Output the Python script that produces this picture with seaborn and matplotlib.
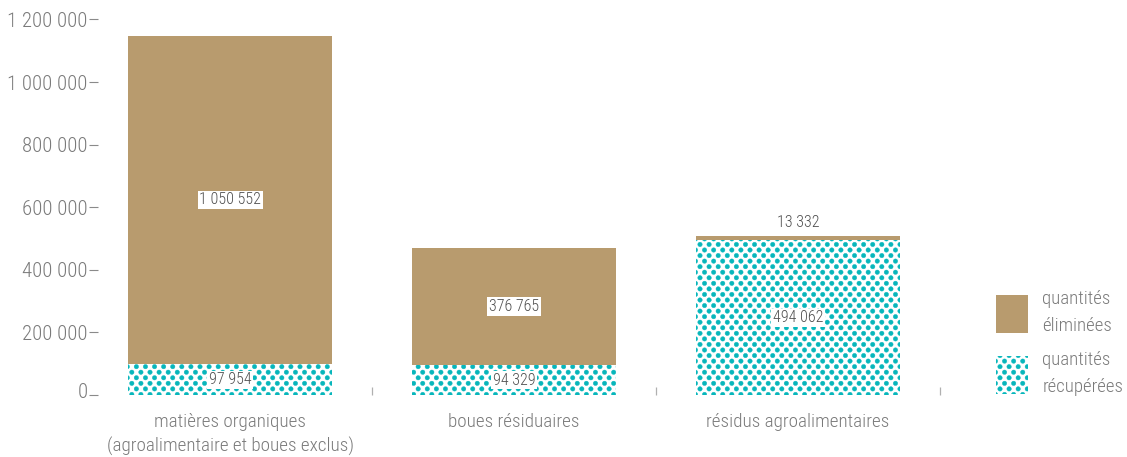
import numpy as np
import pandas as pd
import matplotlib
matplotlib.use("Agg")
import matplotlib.pyplot as plt
import matplotlib.hatch as mhatch
from matplotlib.path import Path
from matplotlib.patches import Patch
from matplotlib.transforms import ScaledTranslation
import seaborn as sns

# ---- data -------------------------------------------------------------
categories = [
    "matières organiques\n(agroalimentaire et boues exclus)",
    "boues résiduaires",
    "résidus agroalimentaires",
]
recuperees = [97954, 94329, 494062]      # quantités récupérées (t)
eliminees = [1050552, 376765, 13332]     # quantités éliminées (t)
y_ticks = [0, 200000, 400000, 600000, 800000, 1000000, 1200000]
y_tick_labels = ["0", "200 000", "400 000", "600 000", "800 000", "1 000 000", "1 200 000"]
legend_labels = ["quantités\néliminées", "quantités\nrécupérées"]

TAN = "#B89B6E"
TEAL = "#07B6BB"
GREY = "#7a7a7a"
DARK = "#4f4f4f"


# ---- dotted fill: filled dots on a staggered lattice --------------------
class StaggeredDots(mhatch.HatchPatternBase):
    cols, rows, radius = 11, 18, 0.022

    def __init__(self, hatch, density):
        circle = Path.unit_circle()
        self.shape_vertices = circle.vertices * self.radius
        self.shape_codes = circle.codes
        self.centres = []
        if "." in hatch:
            for r in range(self.rows + 1):
                y = r / self.rows
                if r % 2 == 0:
                    xs = np.linspace(0, 1, self.cols + 1)
                else:
                    xs = (np.arange(self.cols) + 0.5) / self.cols
                self.centres += [(x, y) for x in xs]
        self.num_vertices = len(self.centres) * len(self.shape_vertices)

    def set_vertices_and_codes(self, vertices, codes):
        k = len(self.shape_vertices)
        for i, (x, y) in enumerate(self.centres):
            vertices[i * k:(i + 1) * k] = self.shape_vertices + (x, y)
            codes[i * k:(i + 1) * k] = self.shape_codes


mhatch._hatch_types[mhatch._hatch_types.index(mhatch.SmallFilledCircles)] = StaggeredDots

# ---- style ------------------------------------------------------------
sns.set_theme(style="white")
plt.rcParams["font.family"] = ["Roboto Condensed", "DejaVu Sans"]
plt.rcParams["font.weight"] = "light"
plt.rcParams["hatch.linewidth"] = 0.3

df = pd.DataFrame({"cat": categories, "rec": recuperees, "elim": eliminees})

fig = plt.figure(figsize=(11.27, 4.57), dpi=100)
ax = fig.add_axes([98 / 1127, 62 / 457, (940 - 98) / 1127, (395 - 19.5) / 457])

# recovered quantities (dotted) at the base
sns.barplot(data=df, x="cat", y="rec", color="white", saturation=1, width=0.72,
            linewidth=0, ax=ax)
for p in ax.containers[-1]:
    p.set_hatch(".")
    p.set_edgecolor(TEAL)
    p.set_linewidth(0)

# eliminated quantities stacked on top
sns.barplot(data=df, x="cat", y="elim", color=TAN, saturation=1, width=0.72,
            linewidth=0, bottom=df["rec"].to_numpy(), ax=ax)

ax.set_xlim(-0.4657, 2.5)
ax.set_ylim(0, 1200000)

# value labels
ymax = ax.get_ylim()[1]
for i, (r, e) in enumerate(zip(recuperees, eliminees)):
    for base, v in ((0, r), (r, e)):
        txt = f"{v:,}".replace(",", " ")
        if v / ymax < 0.05:
            ax.annotate(txt, (i, base + v), xytext=(0, 4.7), textcoords="offset points",
                        ha="center", va="bottom", fontsize=11.5, color=DARK)
        else:
            ax.text(i, base + v / 2, txt, ha="center", va="center", fontsize=11.5,
                    color=DARK,
                    bbox=dict(boxstyle="square,pad=0.1", fc="white", ec="none"))

# axes decoration
for s in ax.spines.values():
    s.set_visible(False)
ax.set_xlabel("")
ax.set_ylabel("")
ax.set_yticks(y_ticks)
ax.set_yticklabels(y_tick_labels)
ax.tick_params(axis="y", left=True, length=6.5, width=0.8, color="#8a8a8a",
               labelsize=15, labelcolor=GREY, pad=1, direction="out")
ax.tick_params(axis="x", which="major", length=0, labelsize=13.8, labelcolor=GREY, pad=13)
for lab in ax.get_xticklabels():
    lab.set_linespacing(1.4)
ax.set_xticks([0.5, 1.5, 2.5], minor=True)
ax.tick_params(axis="x", which="minor", bottom=True, direction="in", length=6,
               width=0.9, color="#b0b0b0")
zero_lab = ax.get_yticklabels()[0]
zero_lab.set_transform(zero_lab.get_transform() + ScaledTranslation(0, 5 / 100, fig.dpi_scale_trans))

# legend
handles = [Patch(facecolor=TAN, edgecolor="none", linewidth=0),
           Patch(facecolor="white", edgecolor=TEAL, hatch=".", linewidth=0)]
leg = fig.legend(handles, legend_labels, loc="upper left",
                 bbox_to_anchor=(996 / 1127, 1 - 290 / 457), frameon=False,
                 fontsize=13.5, labelcolor=GREY, handlelength=1.72, handleheight=2.82,
                 handletextpad=0.75, labelspacing=0.85, borderpad=0, borderaxespad=0)
for t in leg.get_texts():
    t.set_linespacing(1.65)

fig.savefig("out.png", dpi=100)
